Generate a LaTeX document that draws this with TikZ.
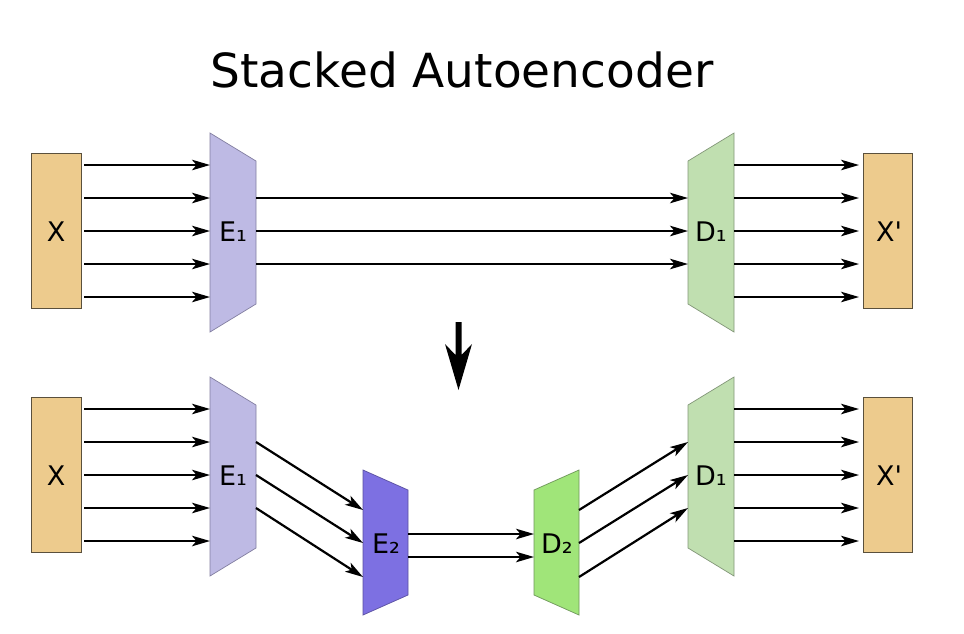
\documentclass[tikz,border=0pt]{standalone}
\usepackage{fontspec}
\setmainfont{DejaVu Sans}
\usetikzlibrary{arrows.meta}
\definecolor{boxfill}{RGB}{237,203,141}
\definecolor{boxline}{RGB}{90,80,60}
\definecolor{eonefill}{RGB}{190,186,228}
\definecolor{eoneline}{RGB}{130,126,160}
\definecolor{etwofill}{RGB}{125,112,226}
\definecolor{etwoline}{RGB}{90,80,160}
\definecolor{donefill}{RGB}{192,223,176}
\definecolor{doneline}{RGB}{130,150,120}
\definecolor{dtwofill}{RGB}{160,229,121}
\definecolor{dtwoline}{RGB}{110,150,90}
\tikzset{
  arr/.style={line width=2.2pt, -{Stealth[length=18pt,width=10.5pt,inset=4.5pt]}},
  databox/.style={fill=boxfill, draw=boxline, line width=0.8pt},
  lbl/.style={font=\fontsize{27}{32}\selectfont, anchor=base, inner sep=0pt},
}
\begin{document}
\begin{tikzpicture}[x=1pt,y=-1pt]
\useasboundingbox (0,0) rectangle (964,633);
% title
\node[font=\fontsize{47}{56}\selectfont, anchor=base, inner sep=0pt] (title) at (462,87) {Stacked Autoencoder};

% ---------- top row ----------
\draw[databox] (31,153) rectangle (81,308);
\draw[databox] (863,153) rectangle (912,308);
\draw[fill=eonefill, draw=eoneline, line width=0.7pt] (210,133) -- (256,161) -- (256,304) -- (210,332) -- cycle;
\draw[fill=donefill, draw=doneline, line width=0.7pt] (688,161) -- (734,133) -- (734,332) -- (688,304) -- cycle;
\node[lbl] (tX) at (56,241) {X};
\node[lbl] (tXp) at (889,241) {X\textquotesingle};
\node[lbl] (tE1) at (233,241) {E₁};
\node[lbl] (tD1) at (711,241) {D₁};

\foreach \i/\y in {1/165,2/198,3/231,4/264,5/297}{
  \coordinate (tXo\i) at (84,\y);
  \coordinate (tEi\i) at (210,\y);
  \coordinate (tDo\i) at (734,\y);
  \coordinate (tXpi\i) at (859,\y);
  \draw[arr] (tXo\i) -- (tEi\i);
  \draw[arr] (tDo\i) -- (tXpi\i);
}
\foreach \i/\y in {1/198,2/231,3/264}{
  \coordinate (tEo\i) at (256,\y);
  \coordinate (tDi\i) at (688,\y);
  \draw[arr] (tEo\i) -- (tDi\i);
}

% ---------- down arrow ----------
\fill (455.5,322) -- (461.5,322) -- (461.5,355) -- (472,344) -- (458.5,390) -- (445,344) -- (455.5,355) -- cycle;

% ---------- bottom row ----------
\draw[databox] (31,397) rectangle (81,552);
\draw[databox] (863,397) rectangle (912,552);
\draw[fill=eonefill, draw=eoneline, line width=0.7pt] (210,377) -- (256,405) -- (256,548) -- (210,576) -- cycle;
\draw[fill=donefill, draw=doneline, line width=0.7pt] (688,405) -- (734,377) -- (734,576) -- (688,548) -- cycle;
\draw[fill=etwofill, draw=etwoline, line width=0.7pt] (363,470) -- (408,490) -- (408,595) -- (363,615) -- cycle;
\draw[fill=dtwofill, draw=dtwoline, line width=0.7pt] (534,490) -- (579,470) -- (579,615) -- (534,595) -- cycle;
\node[lbl] (bX) at (56,485) {X};
\node[lbl] (bXp) at (889,485) {X\textquotesingle};
\node[lbl] (bE1) at (233,485) {E₁};
\node[lbl] (bD1) at (711,485) {D₁};
\node[lbl] (bE2) at (386,553) {E₂};
\node[lbl] (bD2) at (557,553) {D₂};

\foreach \i/\y in {1/409,2/442,3/475,4/508,5/541}{
  \coordinate (bXo\i) at (84,\y);
  \coordinate (bEi\i) at (210,\y);
  \coordinate (bDo\i) at (734,\y);
  \coordinate (bXpi\i) at (859,\y);
  \draw[arr] (bXo\i) -- (bEi\i);
  \draw[arr] (bDo\i) -- (bXpi\i);
}
\foreach \i/\ya/\yb in {1/442/510,2/475/543,3/508/577}{
  \coordinate (bEo\i) at (256,\ya);
  \coordinate (eTi\i) at (363,\yb);
  \coordinate (dTo\i) at (579,\yb);
  \coordinate (bDi\i) at (688,\ya);
  \draw[arr] (bEo\i) -- (eTi\i);
  \draw[arr] (dTo\i) -- (bDi\i);
}
\foreach \i/\y in {1/534,2/557}{
  \coordinate (eTo\i) at (408,\y);
  \coordinate (dTi\i) at (534,\y);
  \draw[arr] (eTo\i) -- (dTi\i);
}
\end{tikzpicture}
\end{document}
